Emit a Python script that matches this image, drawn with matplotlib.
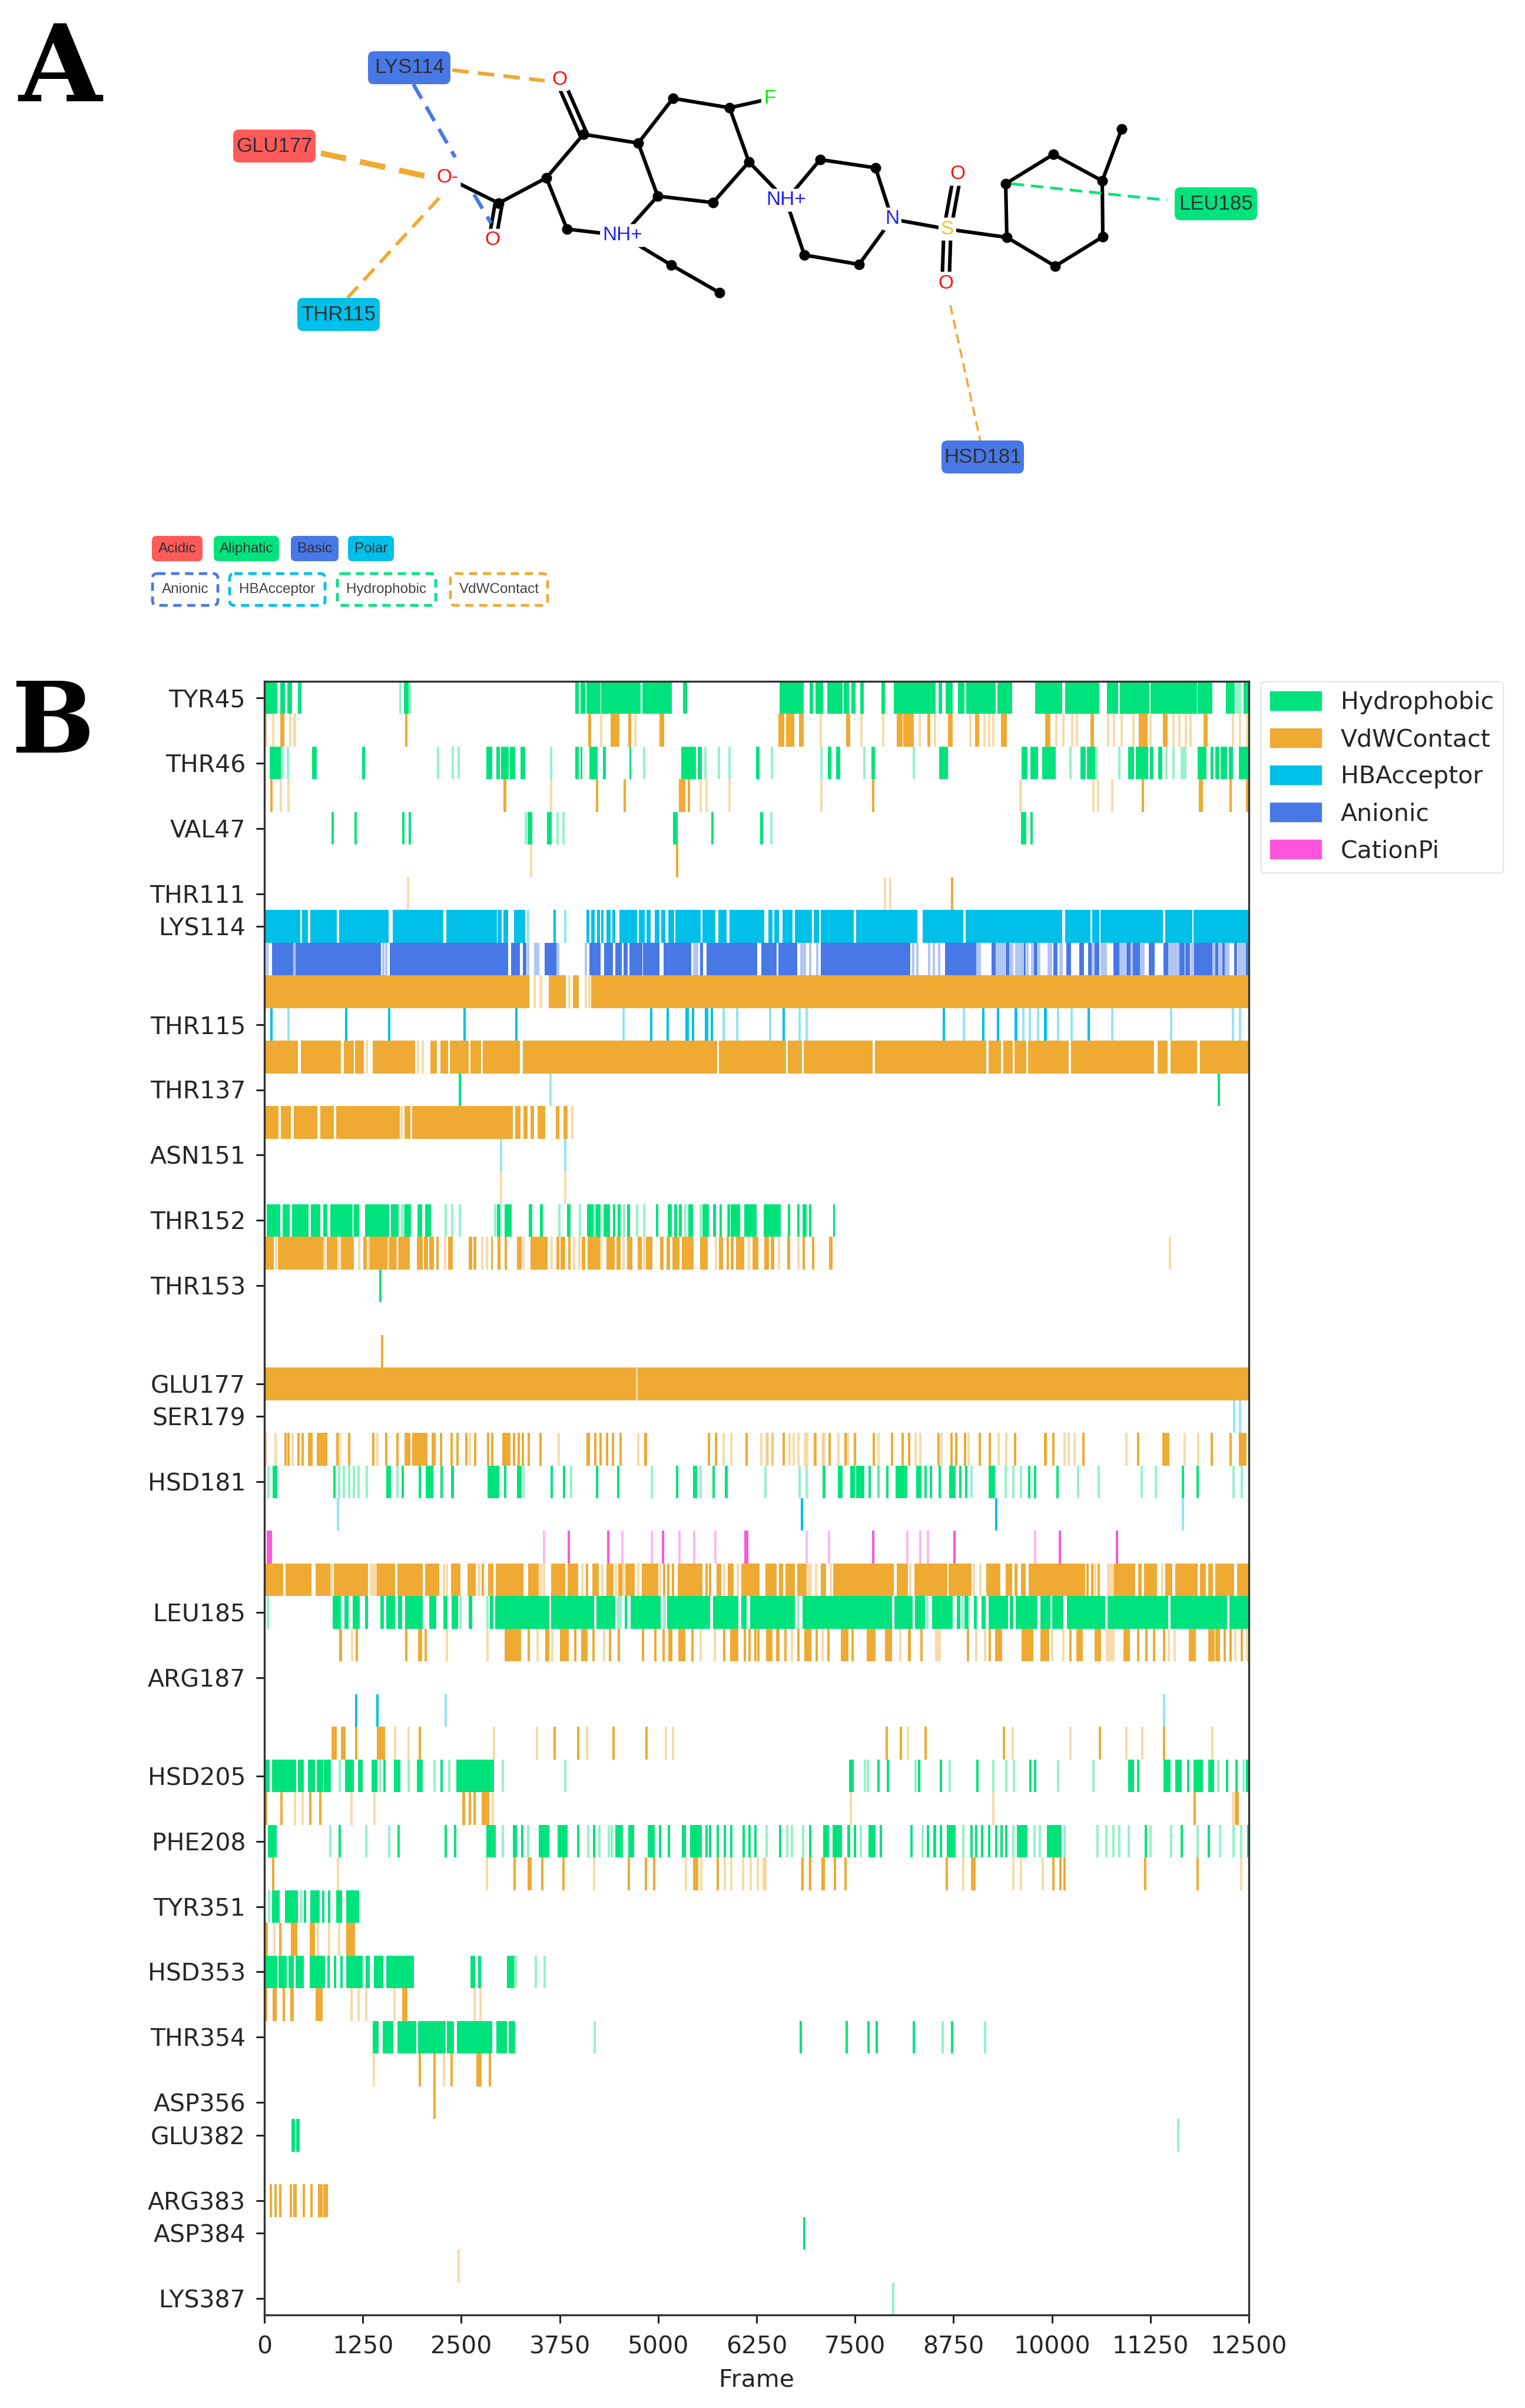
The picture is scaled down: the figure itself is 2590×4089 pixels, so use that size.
import numpy as np
import matplotlib
matplotlib.use('Agg')
import matplotlib.pyplot as plt
from matplotlib.patches import FancyBboxPatch, Patch

# panel B ---------------------------------------------------------------
residue_ticks = [0, 2, 4, 6, 7, 10, 12, 14, 16, 18, 21, 22, 24, 28, 30, 33, 35, 37, 39, 41, 43, 44, 46, 47, 49]
residue_names = ['TYR45', 'THR46', 'VAL47', 'THR111', 'LYS114', 'THR115', 'THR137', 'ASN151', 'THR152', 'THR153',
                 'GLU177', 'SER179', 'HSD181', 'LEU185', 'ARG187', 'HSD205', 'PHE208', 'TYR351', 'HSD353', 'THR354',
                 'ASP356', 'GLU382', 'ARG383', 'ASP384', 'LYS387']
frame_ticks = [0, 1250, 2500, 3750, 5000, 6250, 7500, 8750, 10000, 11250, 12500]

# frames where each contact is on. a pair is a run, a single number one short contact
# the *_f lists are the pale ones
tyr45_h = [(0, 160), (205, 255), (300, 350), (434, 465), (1780, 1830), (3956, 3990), (4020, 4070), (4092, 4266),
           (4284, 4774), (4805, 5165), (5320, 5365), (6546, 6842), (6928, 6965), (7000, 7088), (7150, 7334),
           (7364, 7420), (7457, 7500), (7573, 7604), (7838, 7875), (7998, 8515), (8564, 8600), (8656, 8736),
           (8810, 8884), (8920, 9277), (9314, 9486), (9794, 10126), (10175, 10409), (10421, 10593), (10704, 10839),
           (10870, 11233), (11257, 11836), (11854, 12032), (12217, 12315), (12438, 12500)]
tyr45_h_f = [1724, 1850, (12340, 12400)]
tyr45_v = [(205, 250), (1790, 1815), (4115, 4145), (4400, 4500), (4625, 4655), (5020, 5070), (6534, 6600), (6630, 6720),
           (6793, 6842), (7395, 7432), (8035, 8100), (8120, 8244), (8422, 8453), (8687, 8736), (9025, 9068),
           (9357, 9425), (9917, 9978), (10495, 10532), (11110, 11208), (11417, 11466), (11928, 11971)]
tyr45_v_f = [20, 110, 330, 385, 4278, 4710, 7068, 7582, 7856, 8318, 8515, 8963, 9142, 9203, 9252, 10052, 10144, 10255,
             10320, 10710, 10790, 10882, 11036, 11251, 11540, 11620, 11700, 11762, 12296, 12389, 12481]
thr46_h = [(75, 205), (608, 657), (1246, 1270), (2827, 2889), (2951, 2982), (3013, 3100), (3125, 3180), (3255, 3305),
           (3956, 3987), (4018, 4030), (4130, 4228), (4303, 4328), (4638, 4656), (5295, 5475), (5506, 5549),
           (6250, 6280), (7162, 7192), (7266, 7303), (7715, 7746), (8576, 8674), (9622, 9683), (9732, 9818),
           (9880, 10040), (10366, 10421), (10452, 10544), (10975, 11036), (11067, 11220), (11251, 11282),
           (11356, 11393), (11854, 11959), (12020, 12050), (12082, 12118), (12143, 12217), (12254, 12296), (12377, 12500)]
thr46_h_f = [225, 298, 2207, 2393, 2468, 3640, 4824, 5599, 5772, 5909, 6448, 7069, 7617, 8244, 10236, 10562, 10852,
             11454, 11546, (11639, 11700)]
thr46_v = [87, (3038, 3069), 4222, 4576, (5270, 5338), (5382, 5400), 7733, 11153, (11870, 11910), 12266, 12481]
thr46_v_f = [211, 310, 3640, 5537, 5611, 5909, 7074, 9603, 10525, 10587, 10765]
val47_h = [868, 1159, 1761, 1848, (3350, 3398), (3596, 3640), (5196, 5245), 5692, (6300, 6330), (9609, 9670), 9745]
val47_h_f = [3320, 3720, 3800, 6440]
val47_v = [5239]
val47_v_f = [3385]
thr111_v = [8730]
thr111_v_f = [1823, 7881, 7949]
lys114_hb = [(0, 453), (484, 546), (589, 918), (955, 1569), (1637, 2269), (2313, 2945), (2964, 3007), (3038, 3088),
             (3174, 3305), (3677, 3695), (4092, 4123), (4154, 4191), (4228, 4253), (4278, 4303), (4346, 4390),
             (4421, 4452), (4514, 4731), (4762, 4824), (4855, 4898), (4960, 5010), (5041, 5084), (5134, 5196),
             (5227, 5537), (5568, 5723), (5766, 5865), (5909, 6343), (6405, 6448), (6479, 6529), (6583, 6700),
             (6743, 6946), (6977, 7039), (7069, 7481), (7518, 8287), (8361, 8871), (8908, 10126), (10175, 10483),
             (10519, 10593), (10618, 11405), (11442, 11774), (11799, 12500)]
lys114_hb_f = [3348, 3819]
lys114_an = [(100, 360), (403, 1476), (1600, 3088), (3137, 3243), (3286, 3323), (3560, 3700), (4130, 4266), (4315, 4421),
             (4464, 4532), (4563, 4607), (4638, 4793), (4811, 5010), (5072, 5413), (5537, 5568), (5617, 6250),
             (6312, 6498), (6529, 6758), (7068, 8195), (8650, 9037), (9240, 9278), (9415, 9452), (9652, 9664),
             (9776, 9814), (10026, 10063), (10187, 10237), (10350, 10400), (10462, 10499), (10549, 10598),
             (10785, 10848), (10950, 10990), (11035, 11110), (11234, 11296), (11421, 11471), (11620, 11682),
             (11695, 11745), (11807, 12031), (12082, 12106), (12168, 12190), (12318, 12345), (12470, 12500)]
lys114_an_f = [37, 378, 1507, 1550, 3350, (3430, 3490), (3700, 3739), 4080, (5450, 5506), (6808, 6870), 6930, 7020,
               8240, 8290, 8440, 8500, 8570, (9041, 9091), (9290, 9400), (9465, 9502), (9540, 9650), (9676, 9700),
               (9740, 9765), (9826, 9850), (9950, 10000), (10100, 10130), (10500, 10545), (10622, 10650), (10660, 10690),
               (10848, 10935), (10996, 11020), (11125, 11170), (11480, 11610), (11765, 11800), (12044, 12072),
               (12118, 12155), (12200, 12250), (12360, 12460)]
lys114_v = [(0, 3360), (3615, 3820), (3925, 3987), (4154, 12500)]
lys114_v_f = [3430, 3510, 3870, 4080, 4130]
thr115_hb = [87, 1042, 1587, 2542, 3199, 4910, 5121, (5351, 5382), 5440, (5599, 5630), 5680, 6591, 8625, 9130, 9314,
             (9529, 9560), (9905, 9930), 10470]
thr115_hb_f = [310, 4557, 5830, 6000, 6423, 6795, 6882, 8884, 9640, 9720, 9820, 10075, 10250, 10765, 11516, 12296, 12389]
thr115_v = [(0, 422), (465, 967), (1011, 1135), (1153, 1259), (1383, 1910), (2114, 2189), (2238, 2325), (2362, 2592),
            (2623, 2747), (2778, 3243), (3286, 5741), (5778, 6622), (6651, 6823), (6854, 7715), (7758, 9160), (9203, 9345),
            (9388, 9499), (9529, 9671), (9701, 10206), (10249, 11294), (11344, 11467), (11509, 11836), (11885, 12500)]
thr115_v_f = [1300, 1950, 2010]
thr137_h = [2480, 12118]
thr137_h_f = [3633]
thr137_v = [(0, 174), (217, 335), (378, 670), (713, 880), (918, 1711), (1786, 1848), (1879, 3150), (3193, 3249),
            (3298, 3336), (3385, 3422), (3472, 3559), (3708, 3739), (3800, 3844)]
thr137_v_f = [1745, 3912]
asn151_hb_f = [3007, 3819]
asn151_v_f = [3007, 3819]
thr152_h = [(36, 198), (237, 319), (358, 558), (597, 705), (752, 798), (839, 1112), (1143, 1199), (1284, 1580),
            (1614, 1699), (1781, 1856), (1951, 1995), (2044, 2108), (2958, 2991), (3055, 3138), (3362, 3400), (3503, 3529),
            (3846, 3884), (4099, 4176), (4215, 4266), (4312, 4382), (4433, 4454), (4490, 4516), (4613, 4634), (4974, 4994),
            (5123, 5167), (5205, 5236), (5265, 5296), (5386, 5437), (5566, 5638), (5700, 5731), (5785, 5803),
            (5888, 5906), (5926, 6037), (6101, 6248), (6343, 6552), (6652, 6673), (6770, 6788), (6840, 6879),
            (6922, 6938), (7226, 7239)]
thr152_h_f = [(1112, 1143), (1740, 1781), 2301, 2386, 2481, 2932, 3743, 4008, 4195, 4567, 4729, 4825, 5345, 5540, 5880]
thr152_v = [(23, 113), (178, 744), (795, 924), (976, 1135), (1259, 1297), (1344, 1555), (1588, 1670), (1709, 1838),
            (1941, 2005), (2031, 2070), (2095, 2147), (2185, 2211), (2335, 2391), (2597, 2631), (2661, 2687), (2880, 2898),
            (2965, 2991), (3053, 3078), (3215, 3259), (3382, 3588), (3712, 3738), (3768, 3815), (3866, 3884),
            (4034, 4068), (4112, 4253), (4351, 4395), (4408, 4446), (4472, 4516), (4613, 4665), (4742, 4789),
            (4850, 4922), (5030, 5064), (5108, 5144), (5185, 5265), (5308, 5442), (5535, 5622), (5780, 5818),
            (5870, 5893), (5926, 5957), (5991, 6086), (6204, 6266), (6351, 6402), (6436, 6467), (6647, 6673),
            (6840, 6858), (6956, 6974), (7175, 7213)]
thr152_v_f = [150, 760, 950, 1207, 1320, 1570, 1690, 2296, 2765, 2824, 3292, 3645, 3936, 4000, 4279, 4562, 4825,
              5733, 6153, 6531, 6781, 11497]
thr153_h = [1476]
thr153_v = [1494]
glu177_v = [(0, 4715), (4745, 12500)]
glu177_v_f = [4730]
ser179_hb_f = [12315, 12389]
ser179_v = [267, 310, 434, 483, (558, 608), (670, 794), 930, 1079, 1383, 1550, 1693, (1786, 1848), (1879, 2065), (2127, 2170),
            2245, 2375, 2450, 2567, 2675, 2840, 2890, (3026, 3119), 3170, 3230, 3280, 3360, 3503, (4092, 4130), 4198, 4272,
            4352, 4427, 4520, (4824, 4855), 5648, 5735, 6126, 6596, 6989, 7174, 7377, 7500, 7740, 7973, 8102, 8189, 8558,
            8724, 8785, 8896, 9080, 9209, 9535, 9917, 10015, 10396, 11098, (11405, 11485), 12032, 12266, (12377, 12463)]
ser179_v_f = [20, 143, 360, 955, 1432, 2610, 3739, 4750, 5835, 5928, 6312, 6374, 6455, 6671, 6780,
              6893, 7005, 7110, 7180, 7288, 7412, 6393, 6454, 6719, 6866, 7088, 7795, 8269, 8330, 8601, 8945, 9326,
              9419, 10163, 10212, 10286, 10944, 11682, 11860]
hsd181_h = [(112, 161), 887, (1550, 1600), 1755, 1972, (2052, 2139), 2251, (2375, 2406), (2840, 2976), 3057, (3212, 3261),
            3646, 3807, 4222, 4495, 5239, (5444, 5493), 5704, 5865, 7099, 7112, (7285, 7334), (7444, 7494), (7518, 7610),
            7684, 7912, (8022, 8158), (8281, 8336), 8392, 8466, 8576, (8699, 8773), 8840, 8914, (9197, 9271), 9714,
            (9775, 9794), 10070, 11663, 11848]
hsd181_h_f = [50, 949, 1011, 1073, 1135, 1197, 1302, 1693, 3290, 3894, 4917, 5537, 6361, 6795, 6882, 7800, 7795, 8976,
              9412, 9511, 9609, 10329, 10593, 11141, 11319, 12303, 12407]
hsd181_hb = [6826, 9296]
hsd181_hb_f = [936, 11663]
hsd181_cat = [(37, 93), 3863, 4365, 5059, (6095, 6144), 7731, 8761, 10101, 10827]
hsd181_cat_f = [3553, 4545, 4917, 5270, 5456, 5729, 6888, 7167, 8164, 8330, 8428, 9788]
hsd181_v = [(21, 233), (273, 594), (654, 834), (886, 1314), (1435, 1655), (1695, 2007), (2047, 2215), (2375, 2487),
            (2584, 2676), 2770, (2848, 2904), (2944, 3288), (3356, 3477), (3649, 3817), (3857, 3977), 4097, (4169, 4241),
            (4345, 4425), (4498, 4538), (4586, 4698), (4798, 4998), 5076, 5130, 5190, (5250, 5559), 5611, 5660, (5747, 5799),
            (5891, 5951), (6059, 6286), (6367, 6497), (6537, 6578), (6618, 6732), (6772, 6882), (7072, 7125), (7226, 7988),
            (8036, 8166), (8259, 8664), (8693, 8976), (9171, 9341), (9414, 9487), (9530, 9555), (9610, 9660), (9706, 10419),
            10450, 10508, 10595, (10792, 11055), (11096, 11136), (11177, 11327), (11440, 11521), (11570, 11845),
            (11886, 11946), (11987, 12036), (12080, 12311), (12352, 12500)]
hsd181_v_f = [854, (1340, 1420), 2280, 2315, 2725, 3510, 3550, 4040, 4290, 4460, 4560, 4750, 5025, 5839, 6010, (6900, 6950),
              7003, 7190, 8200, 9010, 9090, 10550, (10700, 10792), 11400]
leu185_h = [(874, 966), (1022, 1066), (1126, 1206), (1282, 1314), (1475, 1511), (1555, 1655), (1703, 1747), (1795, 2007),
            (2095, 2175), (2275, 2323), (2383, 2455), (2596, 2632), (2868, 2904), (2936, 3617), (3649, 4185), (4225, 4450),
            (4578, 4598), (4658, 5026), (5118, 5651), (5699, 6011), (6059, 6119), (6171, 6732), (6841, 7963), (8004, 8227),
            (8267, 8381), (8482, 8733), (8794, 8835), (8895, 8936), (9017, 9041), (9110, 9151), (9203, 9434), (9467, 9503),
            (9544, 9811), (9860, 9973), (10010, 10143), (10192, 10670), (10711, 11473), (11509, 12218), (12258, 12500)]
leu185_h_f = [45, 2488, 2836, (4480, 4530), 5080, 6780, 8420, 8867]
leu185_v = [(954, 982), 1174, 1803, (1955, 1995), 2047, (3056, 3256), 3360, (3569, 3617), (3757, 3857), 3949, (4025, 4097),
            4177, 4386, 4498, 4806, 4962, 5070, (5130, 5178), (5258, 5338), 5438, 5839, (5919, 6011), 6100, 6160, 6233,
            6274, (6375, 6448), (6505, 6537), (6606, 6630), 6780, (6861, 6942), 7016, 7165, (7327, 7408), 7470,
            (7651, 7753), (7882, 7963), 8190, 8340, 8936, 9212, (9280, 9365), (9617, 9758), (9860, 9961), 10233,
            (10314, 10387), (10549, 10622), (10913, 10986), 11096, 11197, 11298, 11420, (11744, 11825), (11987, 12060),
            (12080, 12129), 12190, 12270, 12413]
leu185_v_f = [1115, 2315, 2836, 3468, 3657, 4317, 5539, 5720, 6700, 7084, 8077, 8340, (8523, 8583), 9151, 9042,
              (10690, 10792), 10000, 10144, 11480, 11560, 12330, 12480]
arg187_hb = [1166, 1438]
arg187_hb_f = [2306, 11423]
arg187_v = [(860, 915), (980, 1029), 1166, (1432, 1525), 1972, 3689, 3987, 4433, 4855, 7900, 8084, 8398, 9388, 10612, 11423]
arg187_v_f = [1656, 1830, 2914, 3460, 4098, 5100, 5190, 8170, 9505, 10236, 10944, 11147, 12038]
hsd205_h = [(0, 62), (99, 397), (434, 496), (558, 639), (670, 745), (763, 837), (1029, 1128), (1197, 1246), (1364, 1432),
            1525, (1649, 1724), (1941, 2003), 2250, (2443, 2914), (7426, 7481), 7801, 7918, 8312, 8588, 9056, 9726, 9787,
            (10975, 11036), 11091, (11423, 11497), (11571, 11639), 11731, (11805, 11909), (11989, 12051), 12223, 12346, 12481]
hsd205_h_f = [960, 1470, 1830, 2160, 2350, 3026, 3819, 7622, 7666, 8269, 8700, 9252, 9419, 9517, 10076, 10525, 12112, 12432]
hsd205_v = [(0, 30), 217, 583, 713, (2517, 2542), 2610, 2672, (2765, 2852), 11811, (12328, 12370)]
hsd205_v_f = [391, 484, 1104, 1401, 2901, 7444, 9252, 12300]
phe208_h = [(50, 155), 955, 1705, 2300, 2424, (2827, 2933), (3162, 3199), 3274, (3491, 3615), (3726, 3844), 3987, 4185,
            (4464, 4545), (4625, 4687), (4873, 4948), 5022, 5134, (5307, 5351), (5413, 5549), 5617, 5660, 5754, 5847, 5927,
            6082, 6160, 6237, 6547, 6928, (7100, 7162), (7223, 7328), 7420, 7500, (7672, 7752), 7826, 8219, 8422,
            (8496, 8527), 8588, (8668, 8773), 8976, 9037, 9111, 9203, 9295, 9357, 9419, (9560, 9683), (9941, 10114),
            11190, 11651, 11989, 12490]
phe208_h_f = [837, 1296, 1587, 3026, 3350, 4111, 4254, 4371, 4413, 6374, 6639, 6700, 6842, 7574, 8361, 8871, 9511,
              9781, 9843, 10163, 10581, 10692, 10778, 10852, 10975, 11251, 11516, 11848, 12131, 12303, 12401]
phe208_v = [112, 3174, (3350, 3390), 3528, 3800, 4631, 4848, 4948, (5444, 5506), 5754, 7087, 6836, 6928, 7100, 7241, 7377,
            8668, (8976, 9025), 10015, 10107, 10163, 11184, 11848]
phe208_v_f = [936, 2827, 4185, 5351, 5549, 5847, 5927, 6075, 6175, 6262, 6343, 6826, 6920, 6362, 8871, 9511, 9609, 9880, 12401]
tyr351_h = [(99, 192), (267, 422), 515, (589, 700), 744, 825, (918, 980), (1042, 1197)]
tyr351_h_f = [62, 470]
tyr351_v = [(20, 40), 205, (345, 410), (577, 639), (1042, 1147)]
tyr351_v_f = [124, 680, 825, 950]
hsd353_h = [(0, 161), (186, 279), (310, 372), (403, 496), (577, 763), 813, 900, 980, (1042, 1240), (1290, 1333),
            (1395, 1507), (1550, 1897), (2623, 2672), (2716, 2747), (3088, 3162)]
hsd353_h_f = [(3162, 3199), 3447, 3559]
hsd353_v = [(0, 30), (112, 155), 248, (335, 372), (657, 732), (1755, 1811)]
hsd353_v_f = [1104, 1197, 1290, 1650, 2666, 2747]
thr354_h = [(1383, 1445), (1507, 1631), (1693, 1922), (1959, 2294), (2325, 2406), (2449, 2889), (2951, 3075), (3106, 3181),
            6808, 7397, 7669, 7775, 8244, 8730]
thr354_h_f = [4197, 8613, 9148]
thr354_v = [1972, 2158, 2381, (2700, 2755), 2864]
thr354_v_f = [1389, 2282]
asp356_v = [2158]
glu382_h = [(347, 384), (409, 440)]
glu382_h_f = [11602]
arg383_v = [81, 143, 205, (329, 347), (372, 409), 502, 595, (688, 732), (756, 800)]
asp384_h = [6857]
asp384_v_f = [2468]
lys387_h_f = [7986]

interactions = ['Hydrophobic', 'VdWContact', 'HBAcceptor', 'Anionic', 'CationPi']
interaction_colors = ['#00E37C', '#EFAA33', '#00BFE8', '#4878E6', '#FF55DD']

# (row in the heatmap, interaction, contact frames, pale frames)
rows = [
    (0, 0, tyr45_h, tyr45_h_f), (1, 1, tyr45_v, tyr45_v_f), (2, 0, thr46_h, thr46_h_f), (3, 1, thr46_v, thr46_v_f),
    (4, 0, val47_h, val47_h_f), (5, 1, val47_v, val47_v_f), (6, 1, thr111_v, thr111_v_f),
    (7, 2, lys114_hb, lys114_hb_f), (8, 3, lys114_an, lys114_an_f), (9, 1, lys114_v, lys114_v_f),
    (10, 2, thr115_hb, thr115_hb_f), (11, 1, thr115_v, thr115_v_f), (12, 0, thr137_h, thr137_h_f),
    (13, 1, thr137_v, thr137_v_f), (14, 2, [], asn151_hb_f), (15, 1, [], asn151_v_f),
    (16, 0, thr152_h, thr152_h_f), (17, 1, thr152_v, thr152_v_f), (18, 0, thr153_h, []), (20, 1, thr153_v, []),
    (21, 1, glu177_v, glu177_v_f), (22, 2, [], ser179_hb_f), (23, 1, ser179_v, ser179_v_f),
    (24, 0, hsd181_h, hsd181_h_f), (25, 2, hsd181_hb, hsd181_hb_f), (26, 4, hsd181_cat, hsd181_cat_f),
    (27, 1, hsd181_v, hsd181_v_f), (28, 0, leu185_h, leu185_h_f), (29, 1, leu185_v, leu185_v_f),
    (31, 2, arg187_hb, arg187_hb_f), (32, 1, arg187_v, arg187_v_f), (33, 0, hsd205_h, hsd205_h_f),
    (34, 1, hsd205_v, hsd205_v_f), (35, 0, phe208_h, phe208_h_f), (36, 1, phe208_v, phe208_v_f),
    (37, 0, tyr351_h, tyr351_h_f), (38, 1, tyr351_v, tyr351_v_f), (39, 0, hsd353_h, hsd353_h_f),
    (40, 1, hsd353_v, hsd353_v_f), (41, 0, thr354_h, thr354_h_f), (42, 1, thr354_v, thr354_v_f),
    (43, 1, asp356_v, []), (44, 0, glu382_h, glu382_h_f), (46, 1, arg383_v, []),
    (47, 0, asp384_h, []), (48, 1, [], asp384_v_f), (49, 0, [], lys387_h_f),
]

# panel A, positions in pixels of the picture ---------------------------
atoms = {
    'c1': (991, 228), 'c2': (928, 302), 'c3': (847, 345), 'c4': (963, 389), 'c5': (1117, 333), 'c6': (1084, 243),
    'c7': (1143, 167), 'c8': (1239, 183), 'c9': (1272, 275), 'c10': (1211, 344), 'e1': (1140, 450), 'e2': (1222, 497),
    'p1': (1393, 271), 'p2': (1487, 285), 'p3': (1459, 449), 'p4': (1366, 433), 'r1': (1710, 403), 'r2': (1708, 312),
    'r3': (1789, 262), 'r4': (1872, 307), 'r5': (1873, 402), 'r6': (1792, 452), 'me': (1905, 219),
}
hetero_atoms = {
    'O1': (950, 135, 'O', '#FF0D0D'), 'Om': (760, 302, 'O-', '#FF0D0D'), 'O2': (836, 408, 'O', '#FF0D0D'),
    'N1': (1057, 400, 'NH+', '#1F1FFF'), 'F': (1307, 168, 'F', '#00F000'), 'N2': (1335, 340, 'NH+', '#1F1FFF'),
    'N3': (1515, 372, 'N', '#1F1FFF'), 'S': (1609, 389, 'S', '#E5C832'), 'O3': (1626, 296, 'O', '#FF0D0D'),
    'O4': (1606, 481, 'O', '#FF0D0D'),
}
single_bonds = [('c1', 'c2'), ('c2', 'c3'), ('c3', 'Om'), ('c2', 'c4'), ('c4', 'N1'), ('N1', 'c5'), ('c5', 'c6'), ('c6', 'c1'),
                ('c6', 'c7'), ('c7', 'c8'), ('c8', 'F'), ('c8', 'c9'), ('c9', 'c10'), ('c10', 'c5'), ('N1', 'e1'), ('e1', 'e2'),
                ('c9', 'N2'), ('N2', 'p1'), ('p1', 'p2'), ('p2', 'N3'), ('N3', 'p3'), ('p3', 'p4'), ('p4', 'N2'), ('N3', 'S'),
                ('S', 'r1'), ('r1', 'r2'), ('r2', 'r3'), ('r3', 'r4'), ('r4', 'r5'), ('r5', 'r6'), ('r6', 'r1'), ('r4', 'me')]
double_bonds = [('c1', 'O1'), ('c3', 'O2'), ('S', 'O3'), ('S', 'O4')]

residue_boxes = [('LYS114', 695, 115, '#4878E6'), ('GLU177', 466, 248, '#FF5A5A'), ('THR115', 575, 534, '#00BFE8'),
                 ('LEU185', 2065, 346, '#00E37C'), ('HSD181', 1669, 776, '#4878E6')]
# x0, y0, x1, y1, colour, line width
contact_lines = [(768, 119, 925, 137, '#EFAA33', 4.5), (702, 143, 773, 267, '#4878E6', 4.5),
                 (805, 330, 834, 379, '#4878E6', 4.5), (545, 260, 727, 300, '#EFAA33', 7.0),
                 (590, 506, 747, 335, '#EFAA33', 4.2), (1614, 518, 1665, 749, '#EFAA33', 2.6),
                 (1718, 312, 1982, 340, '#00E37C', 3.4)]
type_legend = [('Acidic', 258, 344, '#FF5A5A'), ('Aliphatic', 363, 474, '#00E37C'), ('Basic', 494, 575, '#4878E6'),
               ('Polar', 591, 669, '#00BFE8')]
contact_legend = [('Anionic', 259, 370, '#4878E6'), ('HBAcceptor', 390, 552, '#00BFE8'),
                  ('Hydrophobic', 573, 740, '#00E37C'), ('VdWContact', 765, 930, '#EFAA33')]

W, H = 2590, 4089
TICK_WIDTH = 30
RUN_PAD = 5


def spans(entries):
    out = []
    for e in entries:
        if isinstance(e, tuple):
            out.append((e[0] - RUN_PAD, e[1] - e[0] + 2 * RUN_PAD))
        else:
            out.append((e - TICK_WIDTH / 2, TICK_WIDTH))
    return out


def panel_b(fig):
    ax = fig.add_axes([449 / W, 1 - 3931 / H, (2121 - 449) / W, (3931 - 1157) / H])
    for row, kind, solid, pale in rows:
        color = interaction_colors[kind]
        if pale:
            ax.broken_barh(spans(pale), (row - 0.5, 1), facecolors=color, alpha=0.42, linewidth=0)
        if solid:
            ax.broken_barh(spans(solid), (row - 0.5, 1), facecolors=color, linewidth=0)
    ax.set_xlim(0, 12500)
    ax.set_ylim(49.5, -0.5)
    ax.set_yticks(residue_ticks)
    ax.set_yticklabels(residue_names)
    ax.set_xticks(frame_ticks)
    ax.tick_params(axis='both', labelsize=29.5, length=10, width=2.2, color='#222222', labelcolor='#262626')
    ax.tick_params(axis='y', pad=13)
    ax.tick_params(axis='x', pad=14.5)
    ax.set_xlabel('Frame', fontsize=29.5, color='#262626', labelpad=12)
    for name in ax.spines:
        ax.spines[name].set_linewidth(2.4)
        ax.spines[name].set_color('#333333')
    handles = [Patch(color=c, label=n) for n, c in zip(interactions, interaction_colors)]
    ax.legend(handles=handles, loc='upper left', bbox_to_anchor=(2141 / W, 1 - 1157 / H), bbox_transform=fig.transFigure,
              borderaxespad=0, fontsize=29.6, labelcolor='#262626', labelspacing=0.56, handlelength=2.1, handleheight=0.83)


def draw_bond(ax, p, q, offset=0.0):
    p, q = np.array(p[:2], dtype=float), np.array(q[:2], dtype=float)
    n = np.array([q[1] - p[1], p[0] - q[0]])
    n = n / np.hypot(*n) * offset
    ax.plot([p[0] + n[0], q[0] + n[0]], [p[1] + n[1], q[1] + n[1]], color='black', lw=4.4, zorder=2,
            solid_capstyle='round')


def panel_a(fig):
    ax = fig.add_axes([0, 0, 1, 1], zorder=5)
    ax.set_xlim(0, W)
    ax.set_ylim(H, 0)
    ax.axis('off')
    ax.patch.set_alpha(0)

    where = {**atoms, **hetero_atoms}
    for a, b in single_bonds:
        draw_bond(ax, where[a], where[b])
    for a, b in double_bonds:
        draw_bond(ax, where[a], where[b], 6)
        draw_bond(ax, where[a], where[b], -6)

    for x0, y0, x1, y1, color, lw in contact_lines:
        ax.plot([x0, x1], [y0, y1], color=color, lw=lw, ls=(0, (4.5, 2.5)), zorder=4)

    xs = [p[0] for p in atoms.values()]
    ys = [p[1] for p in atoms.values()]
    ax.plot(xs, ys, 'o', color='black', ms=12, zorder=3)
    for x, y, label, color in hetero_atoms.values():
        ax.text(x, y, label, color=color, fontsize=24, ha='center', va='center', family='Liberation Sans', zorder=5,
                bbox=dict(boxstyle='round,pad=0.12', fc='white', ec='none'))

    for label, x, y, color in residue_boxes:
        ax.add_patch(FancyBboxPatch((x - 62, y - 20), 124, 40, boxstyle='round,pad=8,rounding_size=10', fc=color, ec='none', zorder=6))
        ax.text(x, y, label, fontsize=25, ha='center', va='center', color='#303030', family='Liberation Sans', zorder=7)

    for label, x0, x1, color in type_legend:
        ax.add_patch(FancyBboxPatch((x0 + 5, 915), x1 - x0 - 10, 33, boxstyle='round,pad=5,rounding_size=8', fc=color, ec='none'))
        ax.text((x0 + x1) / 2, 932, label, fontsize=17.5, ha='center', va='center', color='#303030', family='Liberation Sans')
    for label, x0, x1, color in contact_legend:
        ax.add_patch(FancyBboxPatch((x0 + 5, 979), x1 - x0 - 10, 44, boxstyle='round,pad=5,rounding_size=8', fc='white', ec=color,
                                    lw=3.4, ls=(0, (3, 2))))
        ax.text((x0 + x1) / 2, 1001, label, fontsize=17.5, ha='center', va='center', color='#404040', family='Liberation Sans')

    ax.text(102, 172, 'A', fontsize=131, fontweight='bold', family='DejaVu Serif', ha='center', va='baseline')
    ax.text(90, 1278, 'B', fontsize=120, fontweight='bold', family='DejaVu Serif', ha='center', va='baseline')


def main():
    fig = plt.figure(figsize=(W / 100, H / 100), dpi=100)
    panel_b(fig)
    panel_a(fig)
    fig.savefig('out.png', dpi=100)


if __name__ == "__main__":
    main()
